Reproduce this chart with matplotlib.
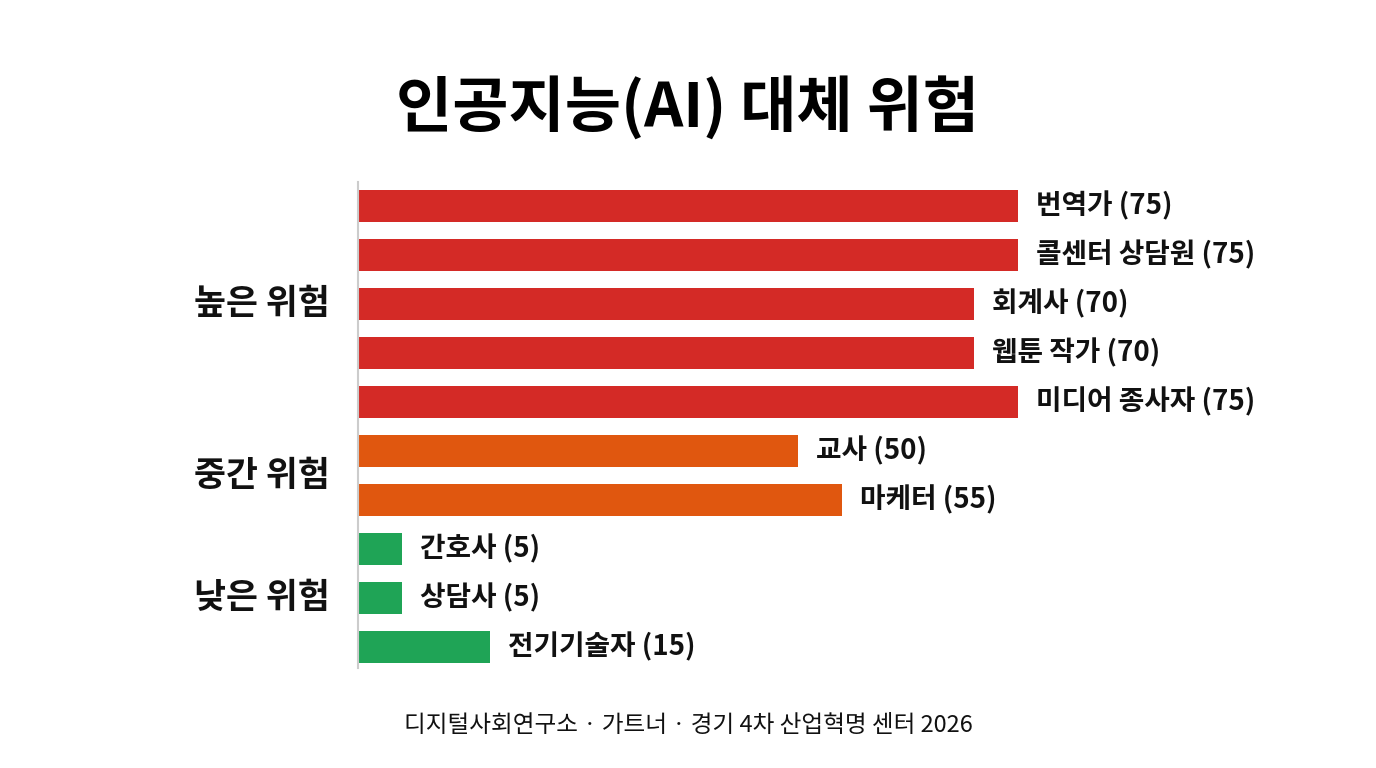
import matplotlib.pyplot as plt

plt.rcParams['font.family'] = ['Noto Sans CJK KR', 'DejaVu Sans']

# data
jobs = ['번역가', '콜센터 상담원', '회계사', '웹툰 작가', '미디어 종사자',
        '교사', '마케터', '간호사', '상담사', '전기기술자']
scores = [75, 75, 70, 70, 75, 50, 55, 5, 5, 15]
levels = ['high', 'high', 'high', 'high', 'high', 'mid', 'mid', 'low', 'low', 'low']
group_names = ['높은 위험', '중간 위험', '낮은 위험']
group_keys = ['high', 'mid', 'low']

level_colors = {'high': '#D42A26', 'mid': '#E0570F', 'low': '#1FA456'}

fig = plt.figure(figsize=(13.76, 7.68), dpi=100)
ax = fig.add_axes([358 / 1376, 100 / 768, 1000 / 1376, 486 / 768])

ypos = list(range(len(jobs)))
ax.barh(ypos, scores, height=0.65, color=[level_colors[l] for l in levels])

# value labels at bar ends
for y, job, s in zip(ypos, jobs, scores):
    ax.text(s + 2.0, y, f'{job} ({s})', va='center', ha='left',
            fontsize=20, fontweight='bold', color='#111111')

# group labels, centred on their bars
for name, key in zip(group_names, group_keys):
    idx = [i for i, l in enumerate(levels) if l == key]
    yc = sum(idx) / len(idx)
    ax.text(-3.2, yc, name, va='center', ha='right',
            fontsize=25, fontweight='bold', color='#111111')

ax.set_xlim(0, 113.6)
ax.set_ylim(len(jobs) - 1 + 0.43, -0.49)
for side in ['top', 'right', 'bottom']:
    ax.spines[side].set_visible(False)
ax.spines['left'].set_color('#cccccc')
ax.spines['left'].set_linewidth(1.5)
ax.set_xticks([])
ax.set_yticks([])

fig.text(0.5, 1 - 108 / 768, '인공지능(AI) 대체 위험', ha='center', va='center',
         fontsize=44, fontweight='black', color='#000000')
fig.text(0.5, 1 - 725 / 768, '디지털사회연구소 · 가트너 · 경기 4차 산업혁명 센터 2026',
         ha='center', va='center', fontsize=17, fontweight='medium', color='#111111')

fig.savefig('out.png', dpi=100, facecolor='white')
